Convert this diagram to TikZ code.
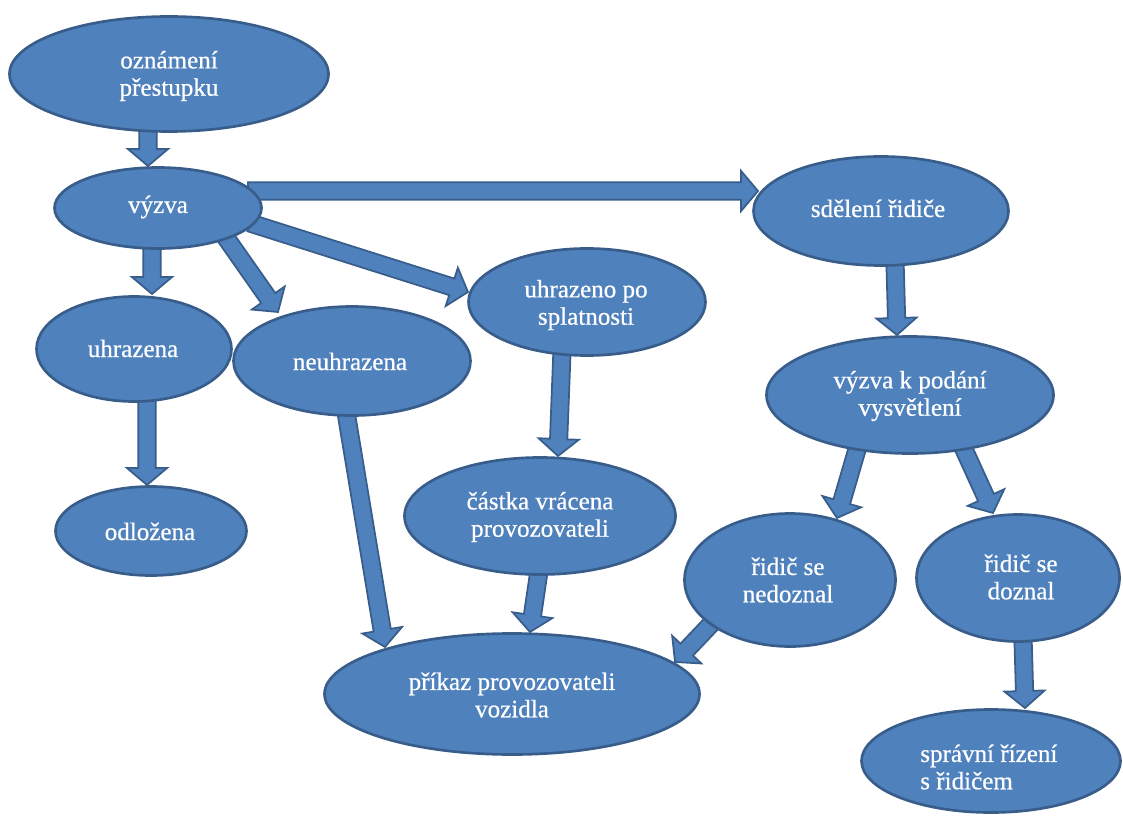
\documentclass[tikz,border=0pt]{standalone}
\usepackage{fontspec}
\setmainfont{Liberation Serif}
\newfontfamily\ltimes[FakeBold=0.6]{Liberation Serif}
\usetikzlibrary{shapes.geometric,calc,backgrounds}
\definecolor{fillc}{RGB}{79,129,189}
\definecolor{bord}{RGB}{56,93,138}
\def\sw{6.5pt}
\def\hw{15.1pt}
\def\hl{12.75pt}
\newcommand\blockarrow[2]{%
  \draw[barrow] let \p1=(#1), \p2=(#2),
    \n1={atan2(\y2-\y1,\x2-\x1)}, \n2={veclen(\x2-\x1,\y2-\y1)} in
    ($(\p1)+(\n1+90:\sw)$)
    -- ($(\p1)+(\n1:{\n2-\hl})+(\n1+90:\sw)$)
    -- ($(\p1)+(\n1:{\n2-\hl})+(\n1+90:\hw)$)
    -- (\p2)
    -- ($(\p1)+(\n1:{\n2-\hl})+(\n1-90:\hw)$)
    -- ($(\p1)+(\n1:{\n2-\hl})+(\n1-90:\sw)$)
    -- ($(\p1)+(\n1-90:\sw)$) -- cycle;}
\begin{document}
\begin{tikzpicture}[x=0.75pt,y=-0.75pt,
  ell/.style 2 args={ellipse, draw=bord, fill=fillc, line width=2pt,
    inner sep=0pt, outer sep=0pt,
    minimum width=#1*0.75pt, minimum height=#2*0.75pt},
  txt/.style={text=white, inner sep=0pt, align=center,
    font=\ltimes\fontsize{18.8}{20.5}\selectfont},
  barrow/.style={draw=bord, fill=fillc, line width=1.3pt, line join=miter}]
\useasboundingbox (0,0) rectangle (1123,816);

\node[ell={319}{115}] (oz) at (169,74) {};
\node[ell={207}{81}]  (vy) at (158,208) {};
\node[ell={255}{109}] (sd) at (881,211) {};
\node[ell={237}{107}] (up) at (587,302) {};
\node[ell={195}{105}] (uh) at (134,349) {};
\node[ell={237}{109}] (ne) at (352,361) {};
\node[ell={287}{117}] (vk) at (910,395) {};
\node[ell={191}{89}]  (od) at (151,531) {};
\node[ell={271}{117}] (ca) at (540,516) {};
\node[ell={211}{133}] (nd) at (790,580) {};
\node[ell={203}{127}] (dz) at (1018,578) {};
\node[ell={375}{121}] (pr) at (512,694) {};
\node[ell={259}{103}] (sp) at (991,761) {};

\begin{pgfonlayer}{background}
\blockarrow{$(oz)+(-21,54)$}{$(vy)+(-10,-42)$}
\blockarrow{$(vy)+(90,-17)$}{$(sd)+(-123,-20)$}
\blockarrow{$(vy)+(92,15)$}{$(up)+(-119,-10)$}
\blockarrow{$(vy)+(66,27)$}{$(ne)+(-74,-49)$}
\blockarrow{$(vy)+(-6,37)$}{$(uh)+(18,-55)$}
\blockarrow{$(uh)+(13,49)$}{$(od)+(-4,-46)$}
\blockarrow{$(ne)+(-6,51)$}{$(pr)+(-127,-47)$}
\blockarrow{$(up)+(-25,49)$}{$(ca)+(18,-60)$}
\blockarrow{$(ca)+(-1,55)$}{$(pr)+(18,-62)$}
\blockarrow{$(nd)+(-78,43)$}{$(pr)+(163,-32)$}
\blockarrow{$(sd)+(14,51)$}{$(vk)+(-13,-60)$}
\blockarrow{$(vk)+(-52,51)$}{$(nd)+(47,-62)$}
\blockarrow{$(vk)+(52,50)$}{$(dz)+(-25,-65)$}
\blockarrow{$(dz)+(5,60)$}{$(sp)+(34,-53)$}
\end{pgfonlayer}

\node[txt] (t-oz) at (169,76) {oznámení\\přestupku};
\node[txt, anchor=base] (t-vy) at (158,213) {výzva};
\node[txt, anchor=base] (t-sd) at (878,217) {sdělení řidiče};
\node[txt] (t-up) at (586,305) {uhrazeno po\\splatnosti};
\node[txt, anchor=base] (t-uh) at (133,357) {uhrazena};
\node[txt, anchor=base] (t-ne) at (350,370) {neuhrazena};
\node[txt] (t-vk) at (910,396) {výzva k podání\\vysvětlení};
\node[txt, anchor=base] (t-od) at (150,540) {odložena};
\node[txt] (t-ca) at (540,517) {částka vrácena\\provozovateli};
\node[txt] (t-pr) at (512,695) {příkaz provozovateli\\vozidla};
\node[txt] (t-nd) at (788,580) {řidič se\\nedoznal};
\node[txt] (t-dz) at (1021,577) {řidič se\\doznal};
\node[txt, align=left, anchor=west] (t-sp) at (920,767) {správní řízení\\s řidičem};
\end{tikzpicture}
\end{document}
